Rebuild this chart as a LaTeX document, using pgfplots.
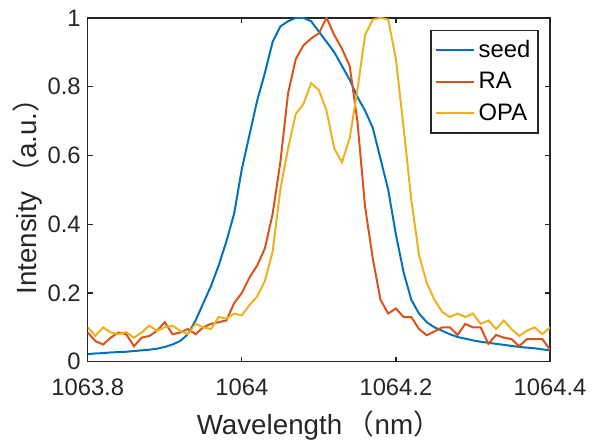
\documentclass[border=0pt]{standalone}
\usepackage{pgfplots}
\usepackage{pgfplotstable}
\pgfplotsset{compat=1.18}
\usepackage{fontspec}
\setmainfont{Liberation Sans}
\newfontfamily\cjk{Noto Sans CJK SC}
\definecolor{mBlue}{rgb}{0,0.447,0.741}
\definecolor{mRed}{rgb}{0.850,0.325,0.098}
\definecolor{mYellow}{rgb}{0.929,0.694,0.125}
\definecolor{axgray}{rgb}{0.15,0.15,0.15}

\pgfplotstableread{
lam     seed   ra     opa
1063.80 0.022  0.085  0.100
1063.81 0.024  0.060  0.075
1063.82 0.025  0.050  0.100
1063.83 0.027  0.070  0.085
1063.84 0.028  0.085  0.080
1063.85 0.029  0.080  0.086
1063.86 0.031  0.045  0.070
1063.87 0.033  0.070  0.085
1063.88 0.035  0.075  0.105
1063.89 0.038  0.090  0.090
1063.90 0.043  0.115  0.100
1063.91 0.050  0.080  0.105
1063.92 0.060  0.085  0.090
1063.93 0.080  0.095  0.080
1063.94 0.120  0.080  0.110
1063.95 0.170  0.100  0.100
1063.96 0.220  0.110  0.095
1063.97 0.280  0.115  0.130
1063.98 0.350  0.120  0.125
1063.99 0.430  0.170  0.140
1064.00 0.560  0.200  0.135
1064.01 0.660  0.245  0.165
1064.02 0.760  0.280  0.190
1064.03 0.840  0.330  0.235
1064.04 0.930  0.430  0.320
1064.05 0.975  0.580  0.500
1064.06 0.990  0.780  0.620
1064.07 1.000  0.880  0.720
1064.08 1.000  0.920  0.750
1064.09 0.990  0.940  0.810
1064.10 0.960  0.955  0.790
1064.11 0.930  1.000  0.730
1064.12 0.900  0.950  0.620
1064.13 0.860  0.910  0.580
1064.14 0.820  0.860  0.650
1064.15 0.770  0.700  0.790
1064.16 0.730  0.450  0.950
1064.17 0.680  0.300  0.995
1064.18 0.590  0.180  1.000
1064.19 0.500  0.140  0.995
1064.20 0.370  0.155  0.880
1064.21 0.260  0.130  0.680
1064.22 0.180  0.130  0.470
1064.23 0.140  0.095  0.310
1064.24 0.115  0.077  0.230
1064.25 0.100  0.088  0.180
1064.26 0.090  0.100  0.145
1064.27 0.080  0.100  0.130
1064.28 0.072  0.078  0.140
1064.29 0.067  0.110  0.130
1064.30 0.062  0.100  0.140
1064.31 0.058  0.100  0.110
1064.32 0.055  0.052  0.120
1064.33 0.052  0.078  0.095
1064.34 0.049  0.070  0.120
1064.35 0.046  0.066  0.095
1064.36 0.043  0.045  0.075
1064.37 0.041  0.066  0.090
1064.38 0.039  0.066  0.100
1064.39 0.036  0.066  0.080
1064.40 0.033  0.035  0.100
}\spectra

\begin{document}
\begin{tikzpicture}
  \begin{axis}[
      scale only axis,
      width=233.25pt, height=173.5pt,
      xmin=1063.8, xmax=1064.4,
      ymin=0, ymax=1,
      xtick={1063.8,1064,1064.2,1064.4},
      xticklabels={1063.8,1064,1064.2,1064.4},
      ytick={0,0.2,0.4,0.6,0.8,1},
      yticklabels={0,0.2,0.4,0.6,0.8,1},
      tick align=inside,
      major tick length=2.5pt,
      tick style={axgray, line width=0.6pt},
      axis line style={axgray, line width=0.75pt},
      ticklabel style={font=\fontsize{12}{14}\selectfont, text=axgray},
      xticklabel style={yshift=-5pt},
      /pgf/number format/assume math mode=true,
      label style={font=\fontsize{14}{16}\selectfont, text=axgray},
      xlabel={Wavelength\,{\cjk （}nm{\cjk ）}},
      ylabel={Intensity\,{\cjk （}a.u.{\cjk ）}},
      xlabel style={yshift=-1pt},
      ylabel style={yshift=-4pt},
      legend style={at={(0.976,0.966)}, anchor=north east,
        font=\fontsize{12}{14}\selectfont, draw=axgray, line width=0.75pt,
        inner xsep=2pt, inner ysep=3pt, row sep=2pt},
      legend cell align=left,
      legend image code/.code={\draw[#1, line width=1pt] (0pt,0pt) -- (19pt,0pt);},
      every axis plot/.append style={line width=1pt},
    ]
    \addplot[mBlue] table[x=lam, y=seed] {\spectra};
    \addplot[mRed] table[x=lam, y=ra] {\spectra};
    \addplot[mYellow] table[x=lam, y=opa] {\spectra};
    \legend{seed, RA, OPA}
  \end{axis}
  \path (current axis.south west) ++(-44.25pt,-39.5pt) coordinate (bbsw);
  \path (current axis.north east) ++(19pt,9pt) coordinate (bbne);
  \path (bbsw) rectangle (bbne);
\end{tikzpicture}
\end{document}
